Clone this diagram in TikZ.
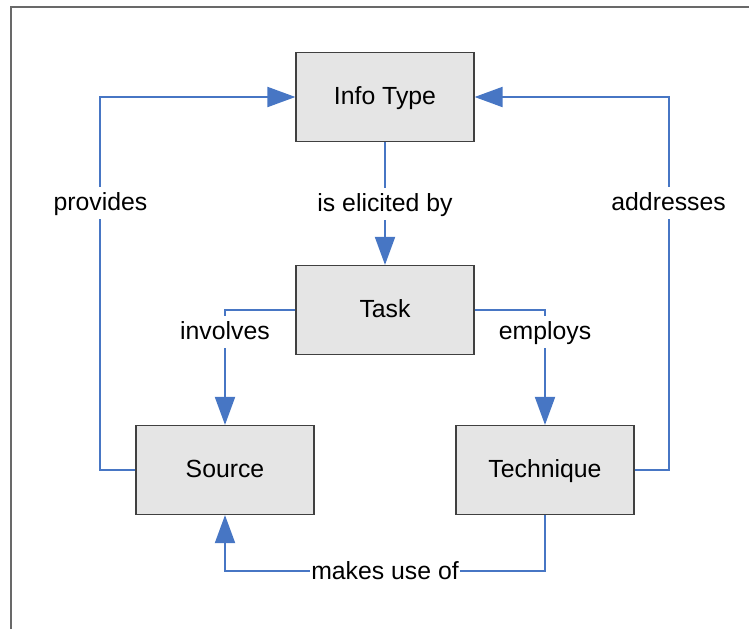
\documentclass[tikz,border=0pt]{standalone}
\usepackage{fontspec}
\setmainfont{Liberation Sans}
\usetikzlibrary{arrows.meta,positioning}

\definecolor{linkblue}{RGB}{71,118,196}
\definecolor{boxgray}{RGB}{229,229,229}
\definecolor{framegray}{RGB}{105,105,105}

\tikzset{
  entity/.style={draw=black!75, fill=boxgray, line width=0.9pt,
                 minimum width=133.5pt, minimum height=66.75pt, inner sep=0pt,
                 text height=11pt, text depth=0pt,
                 font=\fontsize{18.6}{22}\selectfont},
  relation/.style={fill=white, inner xsep=1pt, inner ysep=6pt, text=black,
                   text height=12pt, text depth=0pt,
                   font=\fontsize{18.6}{22}\selectfont},
  link/.style={->, draw=linkblue, line width=1.5pt}
}

\begin{document}
\begin{tikzpicture}[x=0.75pt,y=-0.75pt,>={Triangle[length=21pt,width=15pt]},
                    node distance=120pt]

  \useasboundingbox (0,0) rectangle (749,629);
  \draw[framegray, line width=1.5pt] (11,629) |- (749,7);

  \node[entity] (info)                                          at (385,97) {Info Type};
  \node[entity] (task)      [node distance=159.75pt, below of=info]         {Task};
  \node[entity] (source)    [below of=task, left of=task]                   {Source};
  \node[entity] (technique) [below of=task, right of=task]                  {Technique};

  \draw[link] (info) -- node[relation] {is elicited by} (task);
  \draw[link] (task.west) -| node[relation, pos=0.595] {involves} (source.north);
  \draw[link] (task.east) -| node[relation, pos=0.595] {employs} (technique.north);
  \draw[link] (source.west) -- ++(-35,0) |- node[relation, pos=0.358] {provides} (info.west);
  \draw[link] (technique.east) -- ++(34,0) |- node[relation, pos=0.358] {addresses} (info.east);
  \draw[link] (technique.south) -- ++(0,56) -| node[relation, pos=0.25] {makes use of} (source.south);
\end{tikzpicture}
\end{document}
